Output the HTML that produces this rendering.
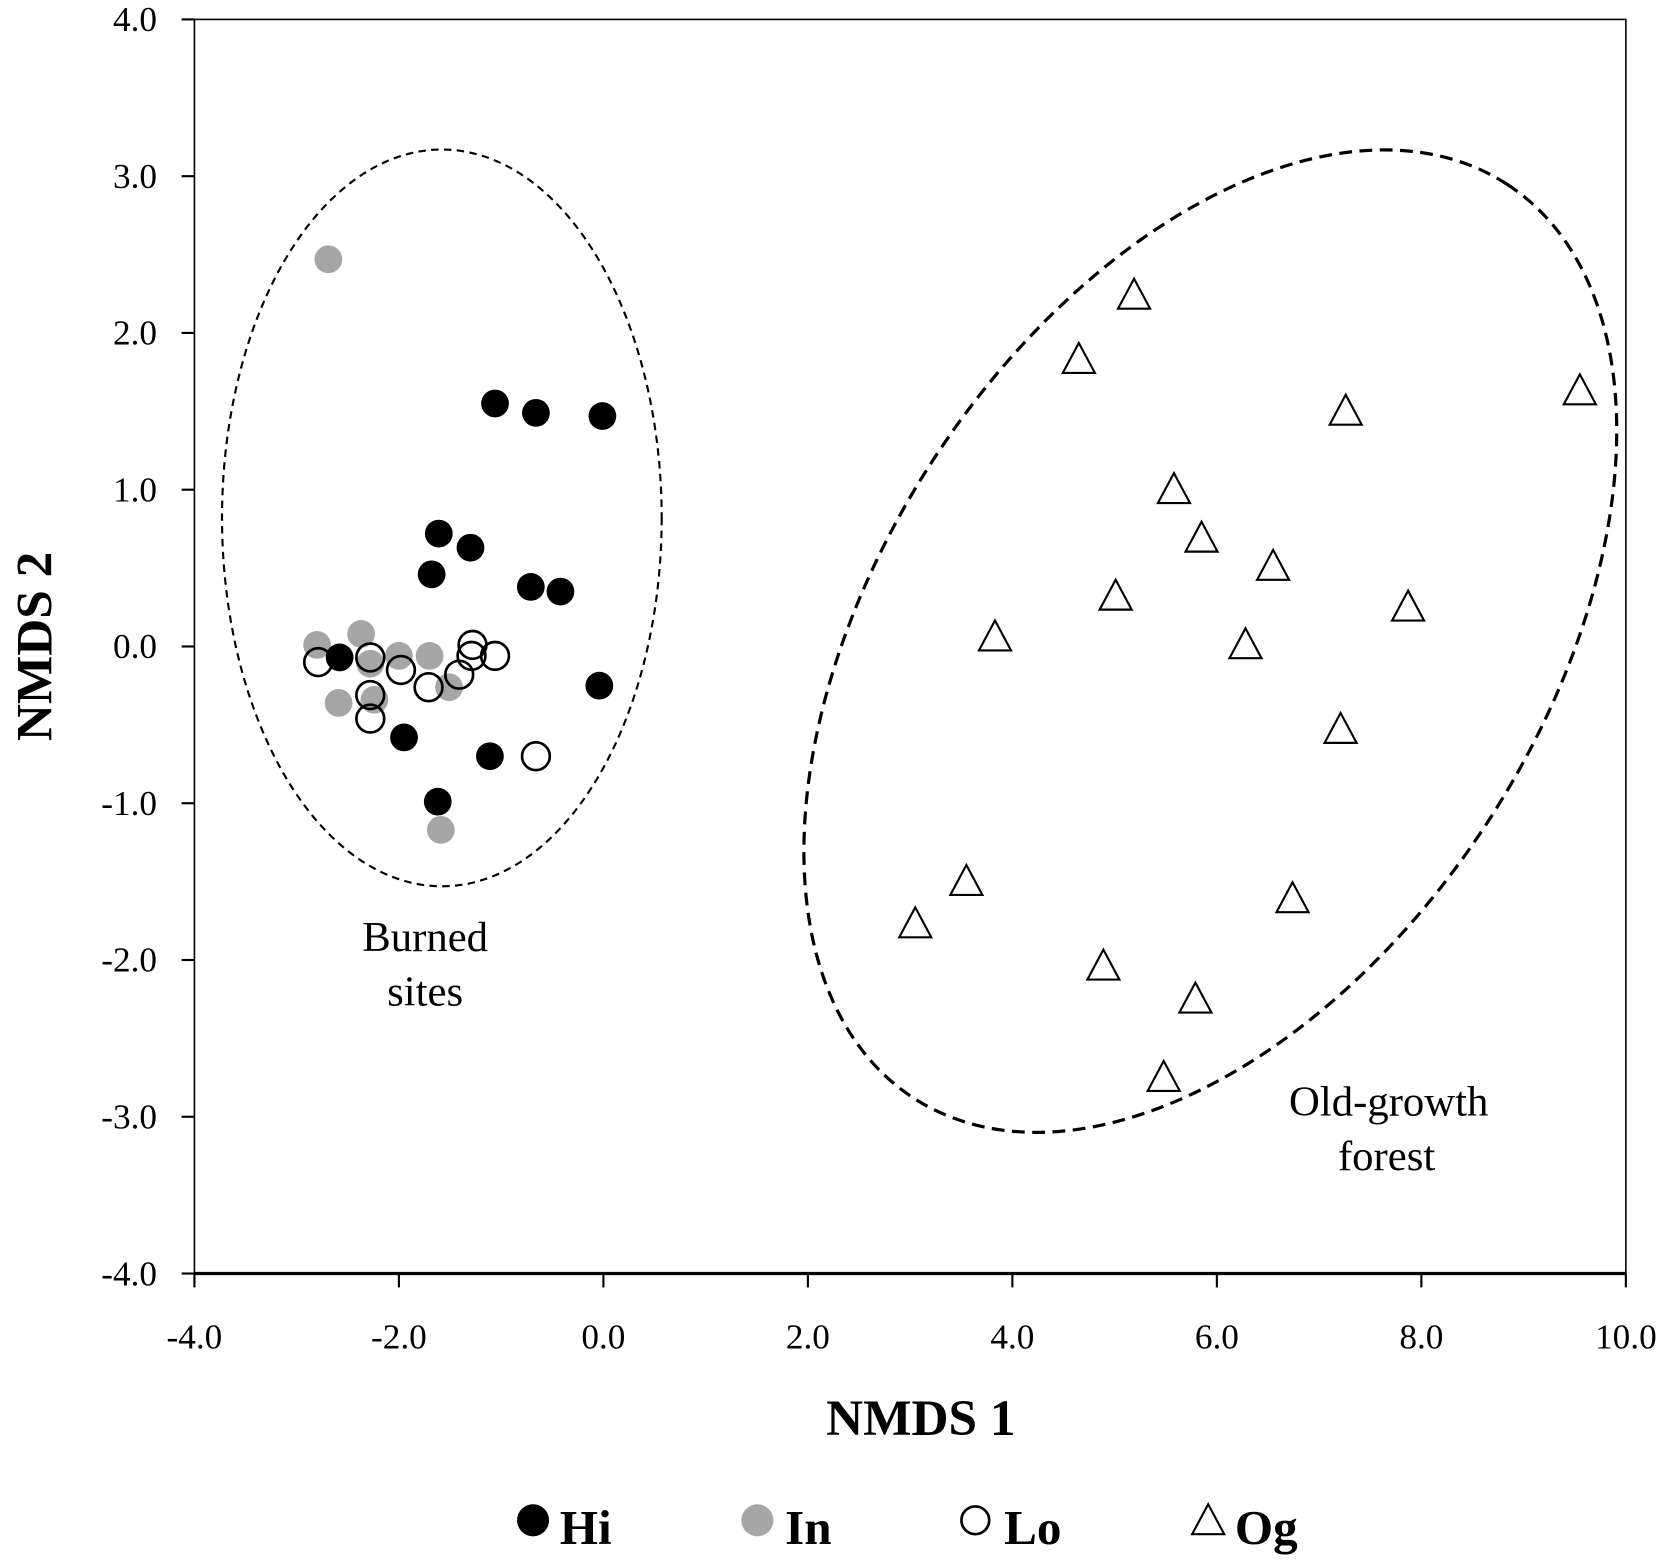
<!DOCTYPE html>
<html><head><meta charset="utf-8"><style>
html,body{margin:0;padding:0;background:#fff}
svg{display:block}
text{font-family:"Liberation Serif",serif;fill:#000}
</style></head><body>
<svg id="chart" width="1675" height="1560" viewBox="0 0 1568 1460" xmlns="http://www.w3.org/2000/svg">
<g id="frame">
<rect x="182" y="18" width="1340" height="1174" fill="none" stroke="#000" stroke-width="1.5"/>
<line x1="182" y1="1192" x2="1522" y2="1192" stroke="#000" stroke-width="3"/>
</g>
<g id="ellipses"></g>
<g id="yticks"></g>
<g id="xticks"></g>
<g id="marks"></g>
<text x="398" y="890" font-size="40" text-anchor="middle">Burned</text>
<text x="398" y="941" font-size="40" text-anchor="middle">sites</text>
<text x="1300" y="1044" font-size="40" text-anchor="middle">Old-growth</text>
<text x="1298" y="1095" font-size="40" text-anchor="middle">forest</text>
<text x="862" y="1343" font-size="48" font-weight="bold" text-anchor="middle">NMDS 1</text>
<text transform="translate(48,605) rotate(-90)" font-size="48" font-weight="bold" text-anchor="middle">NMDS 2</text>
<g id="legend">
<g><circle cx="499" cy="1423" r="15" fill="#000"/><text x="524" y="1445" font-size="46" font-weight="bold">Hi</text></g>
<g><circle cx="709" cy="1423" r="15" fill="#a6a6a6"/><text x="735" y="1445" font-size="46" font-weight="bold">In</text></g>
<g><circle cx="913" cy="1423" r="13" fill="#fff" stroke="#000" stroke-width="2.5"/><text x="940" y="1445" font-size="46" font-weight="bold">Lo</text></g>
<g><polygon points="1131,1408 1116,1436 1146,1436" fill="none" stroke="#000" stroke-width="2"/><text x="1156" y="1445" font-size="46" font-weight="bold">Og</text></g>
</g>
</svg>
<script>
const xTicks=[-4,-2,0,2,4,6,8,10];
const yTicks=[4,3,2,1,0,-1,-2,-3,-4];
const hiX=[-1.06,-0.66,-0.01,-1.61,-1.30,-1.68,-0.71,-0.42,-2.58,-0.04,-1.95,-1.11,-1.62];
const hiY=[1.55,1.49,1.47,0.72,0.63,0.46,0.38,0.35,-0.07,-0.25,-0.58,-0.70,-0.99];
const inX=[-2.69,-2.80,-2.37,-2.28,-2.00,-1.70,-2.59,-2.24,-1.51,-1.59];
const inY=[2.47,0.01,0.08,-0.11,-0.06,-0.06,-0.36,-0.34,-0.26,-1.17];
const loX=[-2.79,-2.28,-2.28,-2.28,-1.98,-1.71,-1.41,-1.28,-1.29,-1.06,-0.66];
const loY=[-0.10,-0.07,-0.31,-0.46,-0.15,-0.26,-0.18,0.01,-0.06,-0.06,-0.70];
const ogX=[5.19,4.65,9.55,7.26,5.58,5.85,6.55,5.01,3.83,7.87,6.28,7.21,3.55,3.05,6.74,4.89,5.79,5.48];
const ogY=[2.23,1.82,1.62,1.49,0.99,0.68,0.50,0.31,0.05,0.24,0.0,-0.54,-1.51,-1.78,-1.62,-2.05,-2.26,-2.76];
const NS='http://www.w3.org/2000/svg';
const X=v=>182+(v+4)*95.714;
const Y=v=>605-v*146.75;
function mk(tag,attrs,parent){const e=document.createElementNS(NS,tag);for(const k in attrs)e.setAttribute(k,attrs[k]);parent.appendChild(e);return e;}
const yt=document.getElementById('yticks'),xt=document.getElementById('xticks'),mg=document.getElementById('marks'),eg=document.getElementById('ellipses');
yTicks.forEach(v=>{
 const l=mk('line',{x1:170,x2:182,y1:Y(v),y2:Y(v),stroke:'#000','stroke-width':2},yt);
 
 
 const t=mk('text',{x:147,y:Y(v)+11,'font-size':33,'text-anchor':'end'},yt);
 t.textContent=v.toFixed(1);
 
 
});
xTicks.forEach(v=>{
 const l=mk('line',{x1:X(v),x2:X(v),y1:1192,y2:1205,stroke:'#000','stroke-width':2},xt);
 
 
 const t=mk('text',{x:X(v),y:1262,'font-size':33,'text-anchor':'middle'},xt);
 t.textContent=v.toFixed(1);
 
 
});
const e1=mk('ellipse',{cx:X(-1.58),cy:Y(0.82),rx:2.15*95.714,ry:2.35*146.75,fill:'none',stroke:'#000','stroke-width':2,'stroke-dasharray':'7,5'},eg);


const e2=mk('ellipse',{cx:0,cy:0,rx:510,ry:310,fill:'none',stroke:'#000','stroke-width':3,'stroke-dasharray':'12,7',transform:'translate(1133,600) rotate(-57)'},eg);


inX.forEach((v,i)=>{const c=mk('circle',{cx:X(v),cy:Y(inY[i]),r:13,fill:'#a6a6a6'},mg);
 
 });
hiX.forEach((v,i)=>{const c=mk('circle',{cx:X(v),cy:Y(hiY[i]),r:13,fill:'#000'},mg);
 
 });
loX.forEach((v,i)=>{const c=mk('circle',{cx:X(v),cy:Y(loY[i]),r:13,fill:'none',stroke:'#000','stroke-width':2.5},mg);
 
 });
ogX.forEach((v,i)=>{const cx=X(v),cy=Y(ogY[i]);
 const p=mk('polygon',{points:`${cx},${cy-17} ${cx-15},${cy+11} ${cx+15},${cy+11}`,fill:'#fff',stroke:'#000','stroke-width':2},mg);
 
 });
</script>
</body></html>
